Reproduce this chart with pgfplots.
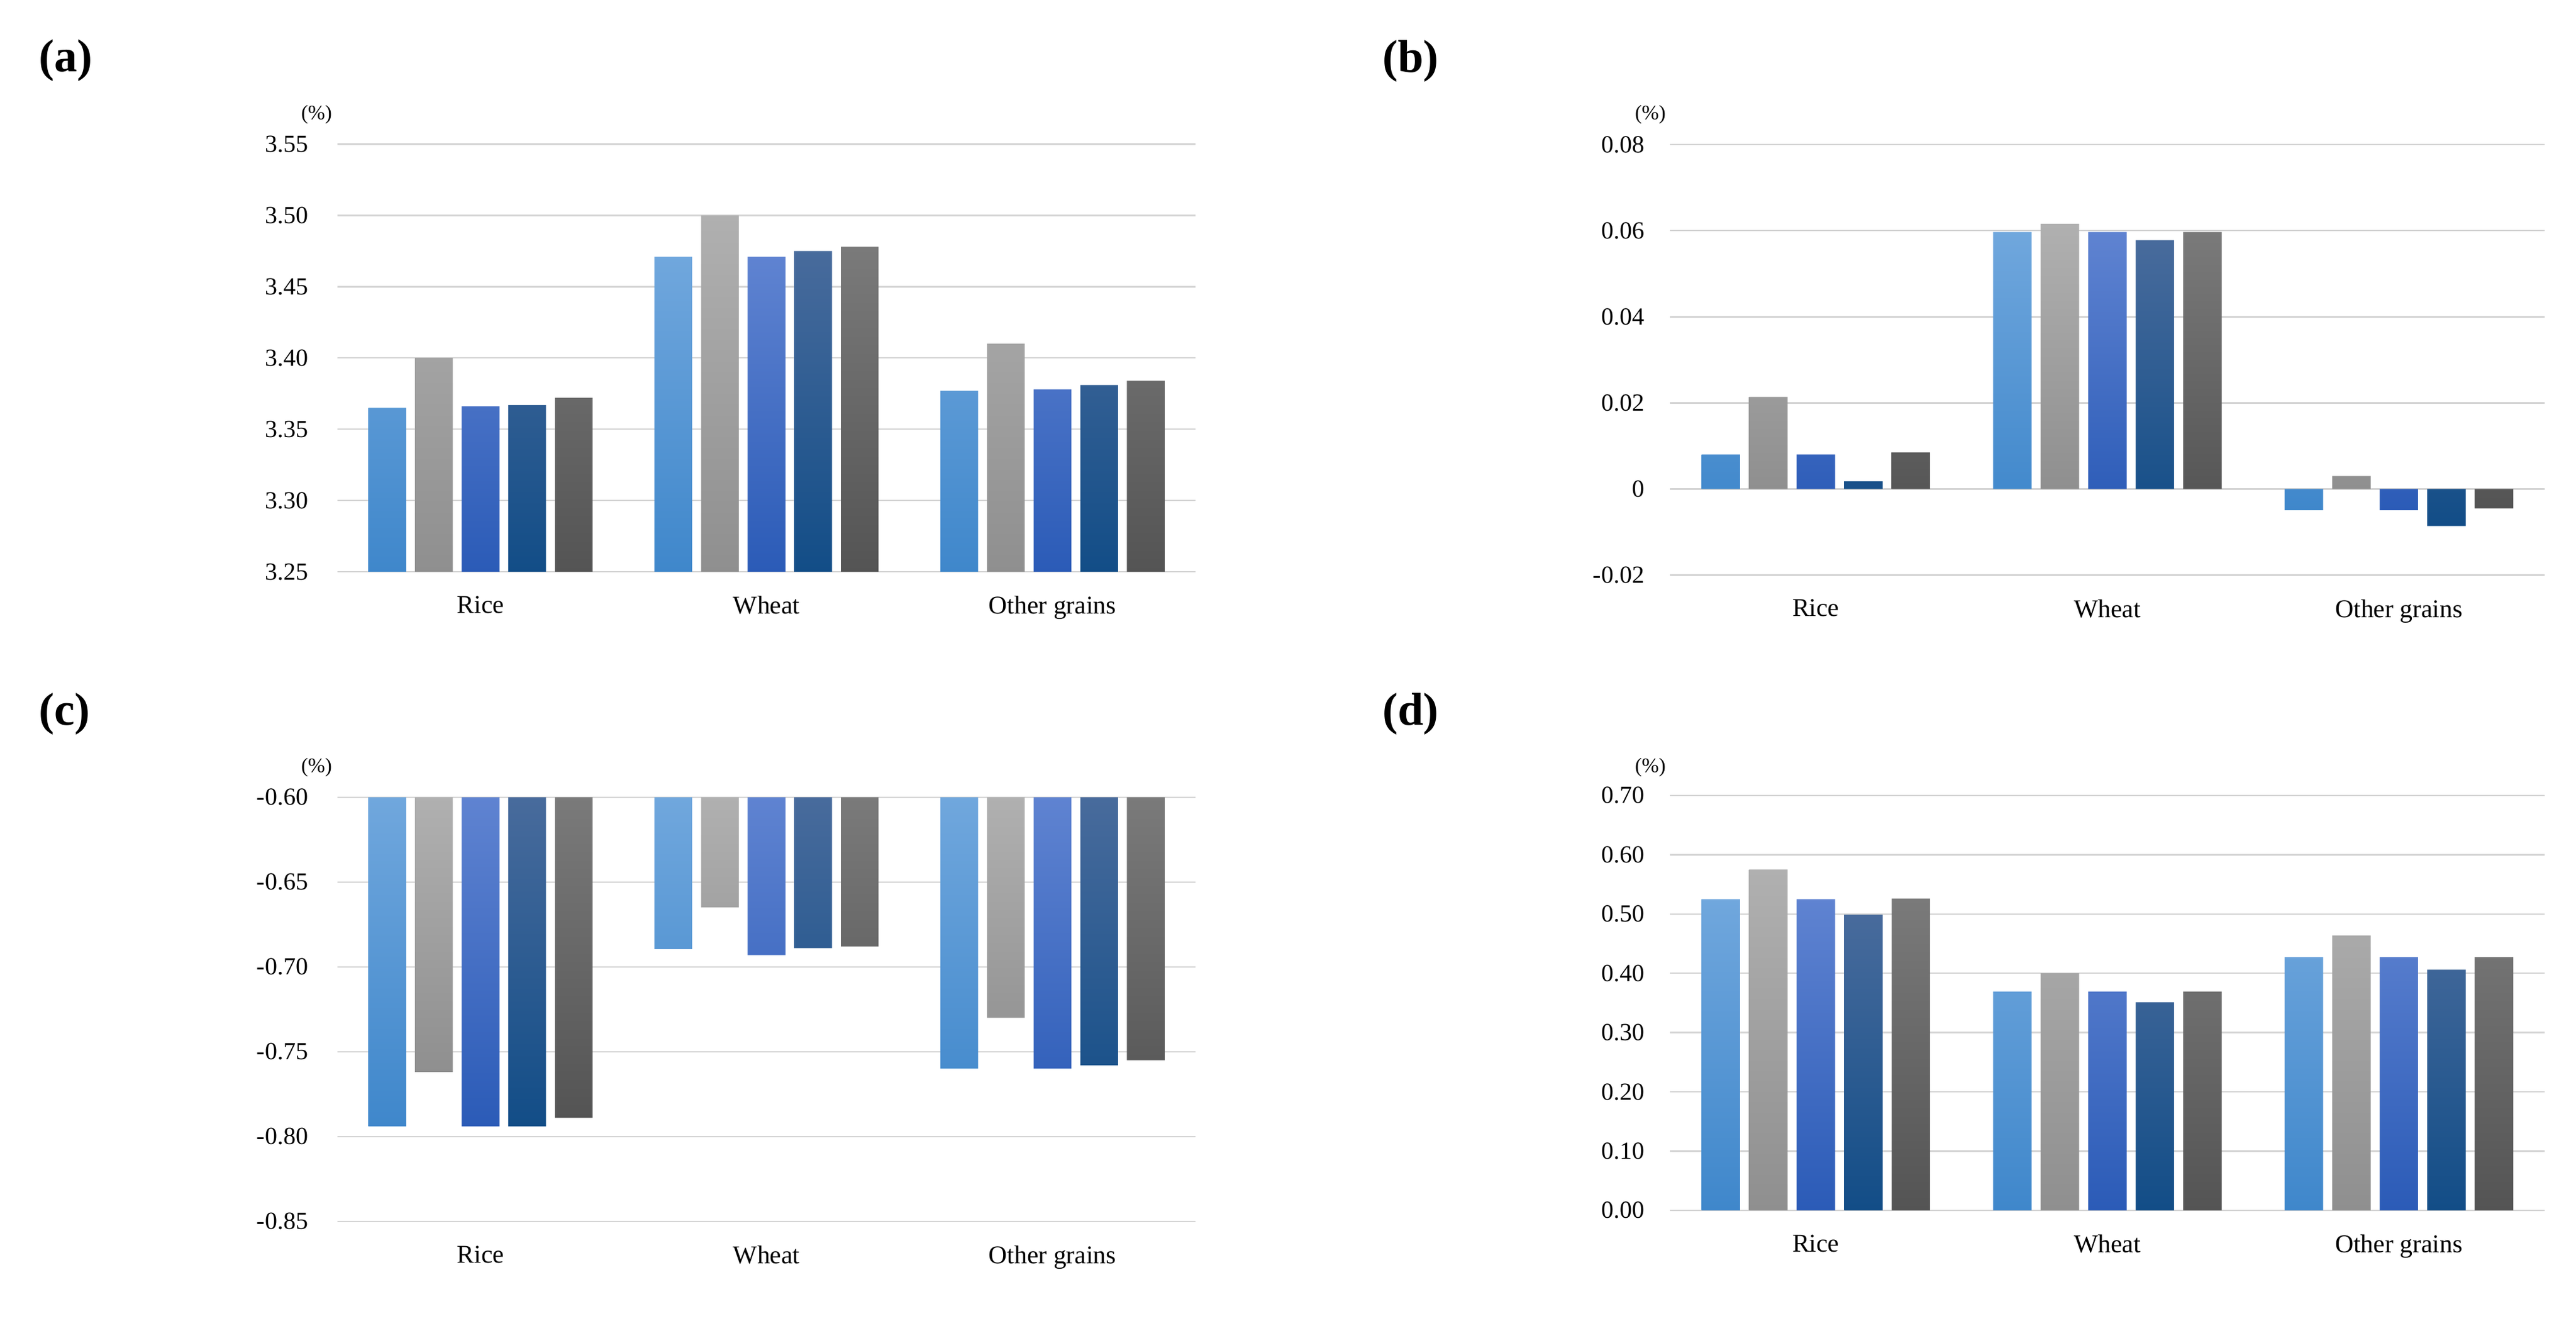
\documentclass[border=0pt]{standalone}
\usepackage{fontspec}
\setmainfont{Liberation Serif}
\usepackage{pgfplots}
\usepackage{pgfplotstable}
\pgfplotsset{compat=1.18}

\definecolor{c1t}{HTML}{70A7DD}
\definecolor{c1b}{HTML}{3F87CB}
\definecolor{c2t}{HTML}{B0B0B0}
\definecolor{c2b}{HTML}{8F8F8F}
\definecolor{c3t}{HTML}{5F83D1}
\definecolor{c3b}{HTML}{2B5BB7}
\definecolor{c4t}{HTML}{486B9C}
\definecolor{c4b}{HTML}{124D87}
\definecolor{c5t}{HTML}{7A7A7A}
\definecolor{c5b}{HTML}{545454}

% values (columns = five scenarios)
\pgfplotstableread{
x s1 s2 s3 s4 s5
0 3.365 3.400 3.366 3.367 3.372
1 3.471 3.500 3.471 3.475 3.478
2 3.377 3.410 3.378 3.381 3.384
}\dataA
\pgfplotstableread{
x s1 s2 s3 s4 s5
0 0.0080 0.0214 0.0080 0.0018 0.0085
1 0.0597 0.0616 0.0597 0.0578 0.0597
2 -0.0049 0.0030 -0.0049 -0.0086 -0.0045
}\dataB
\pgfplotstableread{
x s1 s2 s3 s4 s5
0 -0.794 -0.762 -0.794 -0.794 -0.789
1 -0.6895 -0.665 -0.693 -0.689 -0.688
2 -0.760 -0.730 -0.760 -0.758 -0.755
}\dataC
\pgfplotstableread{
x s1 s2 s3 s4 s5
0 0.525 0.575 0.525 0.499 0.526
1 0.369 0.400 0.369 0.351 0.369
2 0.427 0.464 0.427 0.406 0.427
}\dataD

\pgfplotsset{
  panel/.style={
    scale only axis,
    anchor=south west,
    xmin=-0.5, xmax=2.5,
    xtick={0,1,2},
    xticklabels={Rice,Wheat,Other grains},
    scaled y ticks=false,
    axis line style={draw=none},
    major tick length=0pt,
    ymajorgrids,
    grid style={color=black!17, line width=0.6pt},
    yticklabel style={font=\fontsize{9.6}{11}\selectfont, xshift=-8pt},
    xticklabel style={font=\fontsize{10}{12}\selectfont, yshift=-6pt},
  },
  bars/.style={ybar, bar width=0.132, draw=none},
  s1/.style={bars, top color=c1t, bottom color=c1b, bar shift=-0.326},
  s2/.style={bars, top color=c2t, bottom color=c2b, bar shift=-0.163},
  s3/.style={bars, top color=c3t, bottom color=c3b, bar shift=0},
  s4/.style={bars, top color=c4t, bottom color=c4b, bar shift=0.163},
  s5/.style={bars, top color=c5t, bottom color=c5b, bar shift=0.326},
}

\begin{document}
\begin{tikzpicture}
\path[use as bounding box] (0,0) rectangle (1005.84pt,517.44pt);

% (a)
\begin{axis}[panel, at={(131.8pt,294.2pt)}, width=335pt, height=167pt,
  ymin=0, ymax=0.30,
  ytick={0,0.05,0.10,0.15,0.20,0.25,0.30},
  yticklabels={3.25,3.30,3.35,3.40,3.45,3.50,3.55},
  y filter/.expression={y-3.25}]
  \addplot[s1] table[x=x,y=s1] {\dataA};
  \addplot[s2] table[x=x,y=s2] {\dataA};
  \addplot[s3] table[x=x,y=s3] {\dataA};
  \addplot[s4] table[x=x,y=s4] {\dataA};
  \addplot[s5] table[x=x,y=s5] {\dataA};
\end{axis}

% (b)
\begin{axis}[panel, at={(652.1pt,292.9pt)}, width=341.5pt, height=168.1pt,
  ymin=-0.02, ymax=0.08,
  ytick={-0.02,0,0.02,0.04,0.06,0.08},
  yticklabels={-0.02,0,0.02,0.04,0.06,0.08},
  yticklabel style={xshift=1.5pt}]
  \addplot[s1] table[x=x,y=s1] {\dataB};
  \addplot[s2] table[x=x,y=s2] {\dataB};
  \addplot[s3] table[x=x,y=s3] {\dataB};
  \addplot[s4] table[x=x,y=s4] {\dataB};
  \addplot[s5] table[x=x,y=s5] {\dataB};
\end{axis}

% (c)
\begin{axis}[panel, at={(131.8pt,40.6pt)}, width=335pt, height=165.6pt,
  ymin=-0.25, ymax=0,
  ytick={-0.25,-0.20,-0.15,-0.10,-0.05,0},
  yticklabels={-0.85,-0.80,-0.75,-0.70,-0.65,-0.60},
  y filter/.expression={y+0.60}]
  \addplot[s1] table[x=x,y=s1] {\dataC};
  \addplot[s2] table[x=x,y=s2] {\dataC};
  \addplot[s3] table[x=x,y=s3] {\dataC};
  \addplot[s4] table[x=x,y=s4] {\dataC};
  \addplot[s5] table[x=x,y=s5] {\dataC};
\end{axis}

% (d)
\begin{axis}[panel, at={(652.1pt,44.9pt)}, width=341.5pt, height=162pt,
  ymin=0, ymax=0.70,
  ytick={0,0.1,0.2,0.3,0.4,0.5,0.6,0.7},
  yticklabels={0.00,0.10,0.20,0.30,0.40,0.50,0.60,0.70},
  yticklabel style={xshift=1.5pt}]
  \addplot[s1] table[x=x,y=s1] {\dataD};
  \addplot[s2] table[x=x,y=s2] {\dataD};
  \addplot[s3] table[x=x,y=s3] {\dataD};
  \addplot[s4] table[x=x,y=s4] {\dataD};
  \addplot[s5] table[x=x,y=s5] {\dataD};
\end{axis}

% unit labels
\begin{scope}[every node/.style={font=\fontsize{8}{9}\selectfont, inner sep=0pt}]
  \node at (123.6pt,472.8pt) {(\%)};
  \node at (644.4pt,472.7pt) {(\%)};
  \node at (123.6pt,217.9pt) {(\%)};
  \node at (644.4pt,217.7pt) {(\%)};
\end{scope}

% panel letters
\begin{scope}[every node/.style={font=\fontsize{18}{20}\selectfont\bfseries, inner sep=0pt}]
  \node at (25.7pt,493.9pt) {(a)};
  \node at (550.8pt,493.6pt) {(b)};
  \node at (25.2pt,238.6pt) {(c)};
  \node at (550.8pt,238.6pt) {(d)};
\end{scope}
\end{tikzpicture}
\end{document}
